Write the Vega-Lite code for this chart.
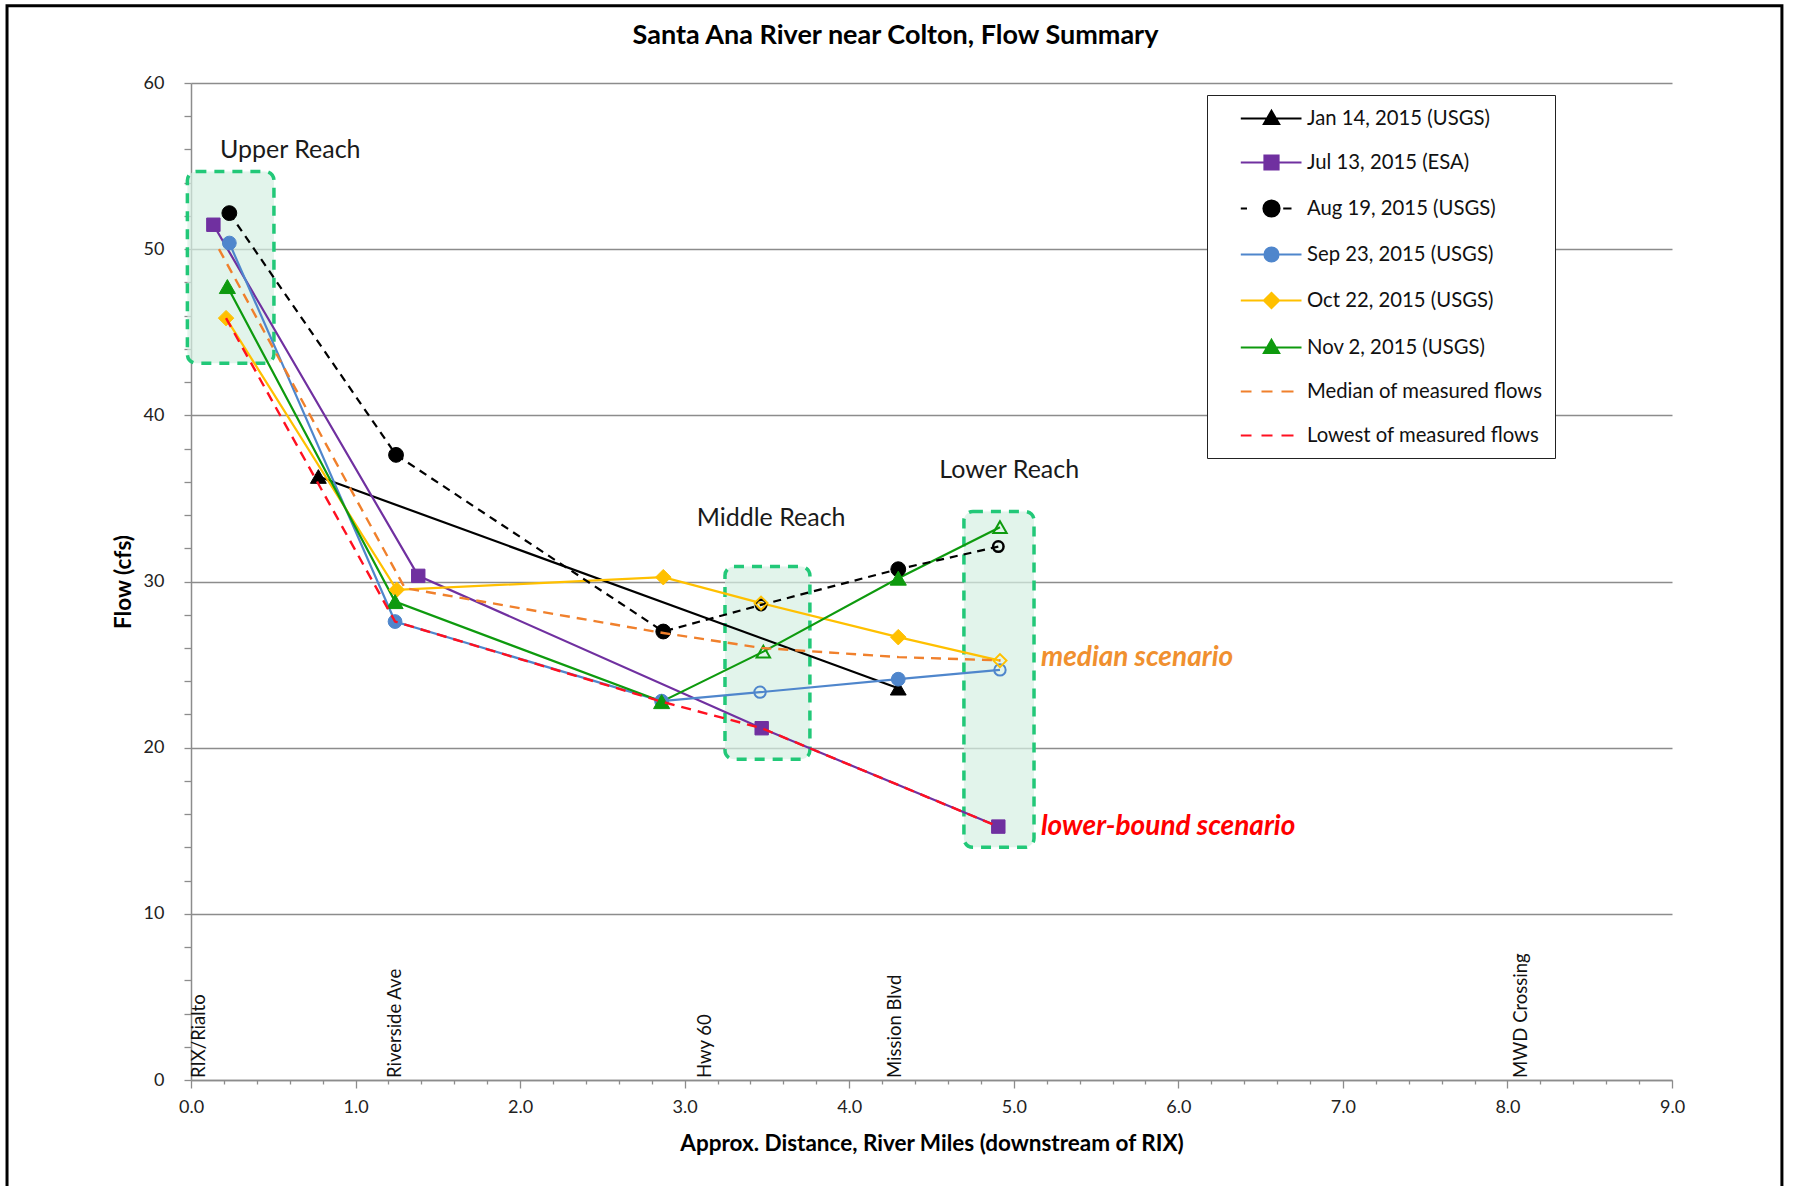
{
  "$schema": "https://vega.github.io/schema/vega-lite/v6.json",
  "width": 1481,
  "height": 997,
  "autosize": {"type": "none"},
  "padding": {"left": 191, "top": 83, "right": 122, "bottom": 106},
  "background": "white",
  "title": {"text": "Santa Ana River near Colton, Flow Summary", "dx": -36, "offset": -46, "fontSize": 27, "font": "Lato", "fontWeight": "bold", "color": "#000000"},
  "layer": [
    {
      "data": {"values": [{}]},
      "mark": {"type": "rect", "fill": "transparent", "stroke": "#000000", "strokeWidth": 3},
      "encoding": {
        "x": {"datum": -1.118, "type": "quantitative"},
        "x2": {"datum": 9.668},
        "y": {"datum": 64.65, "type": "quantitative"},
        "y2": {"datum": -8}
      }
    },
    {
      "data": {"values": [
        {"reach": "Upper", "x": -0.022, "x2": 0.504, "y": 54.68, "y2": 43.14},
        {"reach": "Middle", "x": 3.245, "x2": 3.761, "y": 30.9, "y2": 19.3},
        {"reach": "Lower", "x": 4.697, "x2": 5.123, "y": 34.21, "y2": 14.0}
      ]},
      "mark": {"type": "rect", "fill": "#d6f0e2", "fillOpacity": 0.7, "stroke": "#22c878", "strokeWidth": 3.5, "strokeDash": [10, 8], "cornerRadius": 9},
      "encoding": {
        "x": {"field": "x", "type": "quantitative"},
        "x2": {"field": "x2"},
        "y": {"field": "y", "type": "quantitative"},
        "y2": {"field": "y2"}
      }
    },
    {
      "data": {"values": [
        {"s": "Jan 14, 2015 (USGS)", "x": 0.774, "y": 36.32, "open": false},
        {"s": "Jan 14, 2015 (USGS)", "x": 4.298, "y": 23.58, "open": false},
        {"s": "Jul 13, 2015 (ESA)", "x": 0.136, "y": 51.47, "open": false},
        {"s": "Jul 13, 2015 (ESA)", "x": 1.381, "y": 30.34, "open": false},
        {"s": "Jul 13, 2015 (ESA)", "x": 3.468, "y": 21.17, "open": false},
        {"s": "Jul 13, 2015 (ESA)", "x": 4.906, "y": 15.25, "open": false},
        {"s": "Aug 19, 2015 (USGS)", "x": 0.233, "y": 52.17, "open": false},
        {"s": "Aug 19, 2015 (USGS)", "x": 1.246, "y": 37.62, "open": false},
        {"s": "Aug 19, 2015 (USGS)", "x": 2.87, "y": 26.99, "open": false},
        {"s": "Aug 19, 2015 (USGS)", "x": 3.464, "y": 28.59, "open": true},
        {"s": "Aug 19, 2015 (USGS)", "x": 4.298, "y": 30.74, "open": false},
        {"s": "Aug 19, 2015 (USGS)", "x": 4.906, "y": 32.1, "open": true},
        {"s": "Sep 23, 2015 (USGS)", "x": 0.233, "y": 50.37, "open": false},
        {"s": "Sep 23, 2015 (USGS)", "x": 1.24, "y": 27.59, "open": false},
        {"s": "Sep 23, 2015 (USGS)", "x": 2.86, "y": 22.8, "open": false},
        {"s": "Sep 23, 2015 (USGS)", "x": 3.458, "y": 23.34, "open": true},
        {"s": "Sep 23, 2015 (USGS)", "x": 4.298, "y": 24.12, "open": false},
        {"s": "Sep 23, 2015 (USGS)", "x": 4.916, "y": 24.68, "open": true},
        {"s": "Oct 22, 2015 (USGS)", "x": 0.213, "y": 45.85, "open": false},
        {"s": "Oct 22, 2015 (USGS)", "x": 1.25, "y": 29.5, "open": false},
        {"s": "Oct 22, 2015 (USGS)", "x": 2.87, "y": 30.26, "open": false},
        {"s": "Oct 22, 2015 (USGS)", "x": 3.464, "y": 28.7, "open": true},
        {"s": "Oct 22, 2015 (USGS)", "x": 4.298, "y": 26.65, "open": false},
        {"s": "Oct 22, 2015 (USGS)", "x": 4.916, "y": 25.24, "open": true},
        {"s": "Nov 2, 2015 (USGS)", "x": 0.221, "y": 47.75, "open": false},
        {"s": "Nov 2, 2015 (USGS)", "x": 1.24, "y": 28.79, "open": false},
        {"s": "Nov 2, 2015 (USGS)", "x": 2.86, "y": 22.77, "open": false},
        {"s": "Nov 2, 2015 (USGS)", "x": 3.478, "y": 25.78, "open": true},
        {"s": "Nov 2, 2015 (USGS)", "x": 4.298, "y": 30.2, "open": false},
        {"s": "Nov 2, 2015 (USGS)", "x": 4.916, "y": 33.27, "open": true},
        {"s": "Median of measured flows", "x": 0.17, "y": 50.0, "open": false},
        {"s": "Median of measured flows", "x": 1.3, "y": 29.6, "open": false},
        {"s": "Median of measured flows", "x": 2.87, "y": 26.9, "open": false},
        {"s": "Median of measured flows", "x": 3.47, "y": 26.0, "open": false},
        {"s": "Median of measured flows", "x": 4.3, "y": 25.45, "open": false},
        {"s": "Median of measured flows", "x": 4.92, "y": 25.25, "open": false},
        {"s": "Lowest of measured flows", "x": 0.213, "y": 45.85, "open": false},
        {"s": "Lowest of measured flows", "x": 1.24, "y": 27.59, "open": false},
        {"s": "Lowest of measured flows", "x": 2.86, "y": 22.77, "open": false},
        {"s": "Lowest of measured flows", "x": 3.468, "y": 21.17, "open": false},
        {"s": "Lowest of measured flows", "x": 4.906, "y": 15.25, "open": false}
      ]},
      "encoding": {
        "x": {
          "field": "x", "type": "quantitative",
          "scale": {"domain": [0, 9], "nice": false, "zero": false},
          "axis": {
            "title": "Approx. Distance, River Miles (downstream of RIX)",
            "values": [0,0.2,0.4,0.6,0.8,1,1.2,1.4,1.6,1.8,2,2.2,2.4,2.6,2.8,3,3.2,3.4,3.6,3.8,4,4.2,4.4,4.6,4.8,5,5.2,5.4,5.6,5.8,6,6.2,6.4,6.6,6.8,7,7.2,7.4,7.6,7.8,8,8.2,8.4,8.6,8.8,9],
            "tickCount": 200,
            "labelExpr": "abs(datum.value - round(datum.value)) < 0.01 ? format(datum.value, '.1f') : ''",
            "tickSize": {"condition": {"test": "abs(datum.value - round(datum.value)) < 0.01", "value": 8}, "value": 4},
            "grid": false,
            "labelFlush": false,
            "labelOverlap": false,
            "labelPadding": 10,
            "titlePadding": 16
          }
        },
        "y": {
          "field": "y", "type": "quantitative",
          "scale": {"domain": [0, 60], "nice": false, "zero": false},
          "axis": {
            "title": "Flow (cfs)",
            "values": [0,2,4,6,8,10,12,14,16,18,20,22,24,26,28,30,32,34,36,38,40,42,44,46,48,50,52,54,56,58,60],
            "tickCount": 200,
            "labelExpr": "datum.value % 10 === 0 ? datum.value : ''",
            "grid": true,
            "gridOpacity": {"condition": {"test": "datum.value % 10 === 0", "value": 1}, "value": 0},
            "tickSize": 7,
            "labelFlush": false,
            "labelOverlap": false,
            "labelPadding": 20,
            "titlePadding": 8
          }
        },
        "stroke": {"field": "s", "type": "nominal", "scale": {"domain": ["Jan 14, 2015 (USGS)","Jul 13, 2015 (ESA)","Aug 19, 2015 (USGS)","Sep 23, 2015 (USGS)","Oct 22, 2015 (USGS)","Nov 2, 2015 (USGS)","Median of measured flows","Lowest of measured flows"], "range": ["#000000","#7030A0","#000000","#4F86CC","#FFC000","#0E9A0E","#F0802C","#FF1020"]}}
      },
      "layer": [
        {
          "transform": [{"filter": "datum.s !== 'Median of measured flows' && datum.s !== 'Lowest of measured flows' && datum.s !== 'Aug 19, 2015 (USGS)'"}],
          "mark": {"type": "line", "strokeWidth": 2.2}
        },
        {
          "transform": [{"filter": "datum.s === 'Aug 19, 2015 (USGS)'"}],
          "mark": {"type": "line", "strokeWidth": 2.2, "strokeDash": [8, 6]}
        },
        {
          "transform": [{"filter": "datum.s === 'Jan 14, 2015 (USGS)'"}],
          "mark": {"type": "point", "shape": "triangle-up", "filled": true, "opacity": 1},
          "encoding": {
            "fill": {"condition": {"test": "datum.open", "value": "transparent"}, "field": "s", "type": "nominal", "scale": {"domain": ["Jan 14, 2015 (USGS)","Jul 13, 2015 (ESA)","Aug 19, 2015 (USGS)","Sep 23, 2015 (USGS)","Oct 22, 2015 (USGS)","Nov 2, 2015 (USGS)","Median of measured flows","Lowest of measured flows"], "range": ["#000000","#7030A0","#000000","#4F86CC","#FFC000","#0E9A0E","#F0802C","#FF1020"]}},
            "size": {"condition": {"test": "datum.open", "value": 170}, "value": 250},
            "strokeWidth": {"condition": {"test": "datum.open", "value": 2}, "value": 1}
          }
        },
        {
          "transform": [{"filter": "datum.s === 'Jul 13, 2015 (ESA)'"}],
          "mark": {"type": "point", "shape": "square", "filled": true, "opacity": 1},
          "encoding": {
            "fill": {"condition": {"test": "datum.open", "value": "transparent"}, "field": "s", "type": "nominal", "scale": {"domain": ["Jan 14, 2015 (USGS)","Jul 13, 2015 (ESA)","Aug 19, 2015 (USGS)","Sep 23, 2015 (USGS)","Oct 22, 2015 (USGS)","Nov 2, 2015 (USGS)","Median of measured flows","Lowest of measured flows"], "range": ["#000000","#7030A0","#000000","#4F86CC","#FFC000","#0E9A0E","#F0802C","#FF1020"]}},
            "size": {"condition": {"test": "datum.open", "value": 130}, "value": 180},
            "strokeWidth": {"condition": {"test": "datum.open", "value": 2}, "value": 1}
          }
        },
        {
          "transform": [{"filter": "datum.s === 'Aug 19, 2015 (USGS)'"}],
          "mark": {"type": "point", "shape": "circle", "filled": true, "opacity": 1},
          "encoding": {
            "fill": {"condition": {"test": "datum.open", "value": "transparent"}, "field": "s", "type": "nominal", "scale": {"domain": ["Jan 14, 2015 (USGS)","Jul 13, 2015 (ESA)","Aug 19, 2015 (USGS)","Sep 23, 2015 (USGS)","Oct 22, 2015 (USGS)","Nov 2, 2015 (USGS)","Median of measured flows","Lowest of measured flows"], "range": ["#000000","#7030A0","#000000","#4F86CC","#FFC000","#0E9A0E","#F0802C","#FF1020"]}},
            "size": {"condition": {"test": "datum.open", "value": 110}, "value": 220},
            "strokeWidth": {"condition": {"test": "datum.open", "value": 2.5}, "value": 1}
          }
        },
        {
          "transform": [{"filter": "datum.s === 'Sep 23, 2015 (USGS)'"}],
          "mark": {"type": "point", "shape": "circle", "filled": true, "opacity": 1},
          "encoding": {
            "fill": {"condition": {"test": "datum.open", "value": "transparent"}, "field": "s", "type": "nominal", "scale": {"domain": ["Jan 14, 2015 (USGS)","Jul 13, 2015 (ESA)","Aug 19, 2015 (USGS)","Sep 23, 2015 (USGS)","Oct 22, 2015 (USGS)","Nov 2, 2015 (USGS)","Median of measured flows","Lowest of measured flows"], "range": ["#000000","#7030A0","#000000","#4F86CC","#FFC000","#0E9A0E","#F0802C","#FF1020"]}},
            "size": {"condition": {"test": "datum.open", "value": 130}, "value": 190},
            "strokeWidth": {"condition": {"test": "datum.open", "value": 2}, "value": 1}
          }
        },
        {
          "transform": [{"filter": "datum.s === 'Oct 22, 2015 (USGS)'"}],
          "mark": {"type": "point", "shape": "diamond", "filled": true, "opacity": 1},
          "encoding": {
            "fill": {"condition": {"test": "datum.open", "value": "transparent"}, "field": "s", "type": "nominal", "scale": {"domain": ["Jan 14, 2015 (USGS)","Jul 13, 2015 (ESA)","Aug 19, 2015 (USGS)","Sep 23, 2015 (USGS)","Oct 22, 2015 (USGS)","Nov 2, 2015 (USGS)","Median of measured flows","Lowest of measured flows"], "range": ["#000000","#7030A0","#000000","#4F86CC","#FFC000","#0E9A0E","#F0802C","#FF1020"]}},
            "size": {"condition": {"test": "datum.open", "value": 170}, "value": 240},
            "strokeWidth": {"condition": {"test": "datum.open", "value": 2}, "value": 1}
          }
        },
        {
          "transform": [{"filter": "datum.s === 'Nov 2, 2015 (USGS)'"}],
          "mark": {"type": "point", "shape": "triangle-up", "filled": true, "opacity": 1},
          "encoding": {
            "fill": {"condition": {"test": "datum.open", "value": "transparent"}, "field": "s", "type": "nominal", "scale": {"domain": ["Jan 14, 2015 (USGS)","Jul 13, 2015 (ESA)","Aug 19, 2015 (USGS)","Sep 23, 2015 (USGS)","Oct 22, 2015 (USGS)","Nov 2, 2015 (USGS)","Median of measured flows","Lowest of measured flows"], "range": ["#000000","#7030A0","#000000","#4F86CC","#FFC000","#0E9A0E","#F0802C","#FF1020"]}},
            "size": {"condition": {"test": "datum.open", "value": 180}, "value": 260},
            "strokeWidth": {"condition": {"test": "datum.open", "value": 2}, "value": 1}
          }
        },
        {
          "transform": [{"filter": "datum.s === 'Median of measured flows' || datum.s === 'Lowest of measured flows'"}],
          "mark": {"type": "line", "strokeWidth": 2.4, "strokeDash": [10, 7]}
        },
        {
          "mark": {"type": "point", "opacity": 0},
          "encoding": {
            "shape": {"field": "s", "type": "nominal", "scale": {"domain": ["Jan 14, 2015 (USGS)","Jul 13, 2015 (ESA)","Aug 19, 2015 (USGS)","Sep 23, 2015 (USGS)","Oct 22, 2015 (USGS)","Nov 2, 2015 (USGS)","Median of measured flows","Lowest of measured flows"], "range": [
              "M1.03,0H7.1M4.1,-0.75L4.85,0.55L3.35,0.55Z",
              "M1.03,0H7.1M3.4,-0.7H4.8V0.7H3.4Z",
              "M1.03,0H1.65M5.27,0H6.1M3.3,0A0.8,0.8,0,1,1,4.9,0A0.8,0.8,0,1,1,3.3,0Z",
              "M1.03,0H7.1M3.4,0A0.7,0.7,0,1,1,4.8,0A0.7,0.7,0,1,1,3.4,0Z",
              "M1.03,0H7.1M3.35,0L4.1,-0.75L4.85,0L4.1,0.75Z",
              "M1.03,0H7.1M4.1,-0.75L4.85,0.55L3.35,0.55Z",
              "M1.03,0H2.1M3.1,0H4.2M5.1,0H6.3",
              "M1.03,0H2.1M3.1,0H4.2M5.1,0H6.3"
            ]}, "legend": {"title": null, "orient": "none", "legendX": 1016, "legendY": 12, "symbolOpacity": 1, "labelExpr": "datum.label + '\u00a0\u00a0\u00a0\u00a0'"}},
            "fill": {"field": "s", "type": "nominal", "scale": {"domain": ["Jan 14, 2015 (USGS)","Jul 13, 2015 (ESA)","Aug 19, 2015 (USGS)","Sep 23, 2015 (USGS)","Oct 22, 2015 (USGS)","Nov 2, 2015 (USGS)","Median of measured flows","Lowest of measured flows"], "range": ["#000000","#7030A0","#000000","#4F86CC","#FFC000","#0E9A0E","#F0802C","#FF1020"]}, "legend": {"title": null, "orient": "none", "legendX": 1016, "legendY": 12, "symbolOpacity": 1, "labelExpr": "datum.label + '\u00a0\u00a0\u00a0\u00a0'"}},
            "stroke": {"field": "s", "type": "nominal", "scale": {"domain": ["Jan 14, 2015 (USGS)","Jul 13, 2015 (ESA)","Aug 19, 2015 (USGS)","Sep 23, 2015 (USGS)","Oct 22, 2015 (USGS)","Nov 2, 2015 (USGS)","Median of measured flows","Lowest of measured flows"], "range": ["#000000","#7030A0","#000000","#4F86CC","#FFC000","#0E9A0E","#F0802C","#FF1020"]}, "legend": {"title": null, "orient": "none", "legendX": 1016, "legendY": 12, "symbolOpacity": 1, "labelExpr": "datum.label + '\u00a0\u00a0\u00a0\u00a0'"}}
          }
        }
      ]
    },
    {
      "data": {"values": [
        {"label": "Upper Reach", "x": 0.176, "y": 55.98},
        {"label": "Middle Reach", "x": 3.073, "y": 33.81},
        {"label": "Lower Reach", "x": 4.547, "y": 36.72}
      ]},
      "mark": {"type": "text", "align": "left", "baseline": "middle", "font": "Lato", "fontSize": 25, "color": "#1a1a1a"},
      "encoding": {
        "x": {"field": "x", "type": "quantitative"},
        "y": {"field": "y", "type": "quantitative"},
        "text": {"field": "label"}
      }
    },
    {
      "data": {"values": [{"label": "median scenario", "x": 5.165, "y": 25.41}]},
      "mark": {"type": "text", "align": "left", "baseline": "middle", "font": "Lato", "fontSize": 28, "fontWeight": "bold", "fontStyle": "italic", "color": "#F0902F"},
      "encoding": {
        "x": {"field": "x", "type": "quantitative"},
        "y": {"field": "y", "type": "quantitative"},
        "text": {"field": "label"}
      }
    },
    {
      "data": {"values": [{"label": "lower-bound scenario", "x": 5.165, "y": 15.22}]},
      "mark": {"type": "text", "align": "left", "baseline": "middle", "font": "Lato", "fontSize": 28, "fontWeight": "bold", "fontStyle": "italic", "color": "#FF0000"},
      "encoding": {
        "x": {"field": "x", "type": "quantitative"},
        "y": {"field": "y", "type": "quantitative"},
        "text": {"field": "label"}
      }
    },
    {
      "data": {"values": [
        {"label": "RIX/Rialto", "x": 0.049},
        {"label": "Riverside  Ave", "x": 1.238},
        {"label": "Hwy 60", "x": 3.122},
        {"label": "Mission  Blvd", "x": 4.276},
        {"label": "MWD Crossing", "x": 8.08}
      ]},
      "mark": {"type": "text", "align": "left", "baseline": "middle", "angle": 270, "font": "Lato", "fontSize": 18.5, "color": "#111111"},
      "encoding": {
        "x": {"field": "x", "type": "quantitative"},
        "y": {"datum": 0.12, "type": "quantitative"},
        "text": {"field": "label"}
      }
    }
  ],
  "config": {
    "font": "Lato",
    "view": {"stroke": null},
    "axis": {
      "labelFont": "Lato",
      "labelFontSize": 18,
      "labelColor": "#222222",
      "titleFont": "Lato",
      "titleFontSize": 22.5,
      "titleFontWeight": "bold",
      "titleColor": "#000000",
      "domainColor": "#8c8c8c",
      "domainWidth": 1.5,
      "tickColor": "#8c8c8c",
      "tickWidth": 1.3,
      "gridColor": "#8c8c8c",
      "gridWidth": 1.5
    },
    "legend": {
      "padding": 12,
      "strokeColor": "#222222",
      "fillColor": "#ffffff",
      "labelFont": "Lato",
      "labelFontSize": 20.3,
      "labelColor": "#111111",
      "labelLimit": 400,
      "symbolSize": 400,
      "symbolStrokeWidth": 2.2,
      "labelOffset": 65,
      "rowPadding": 22
    }
  }
}
